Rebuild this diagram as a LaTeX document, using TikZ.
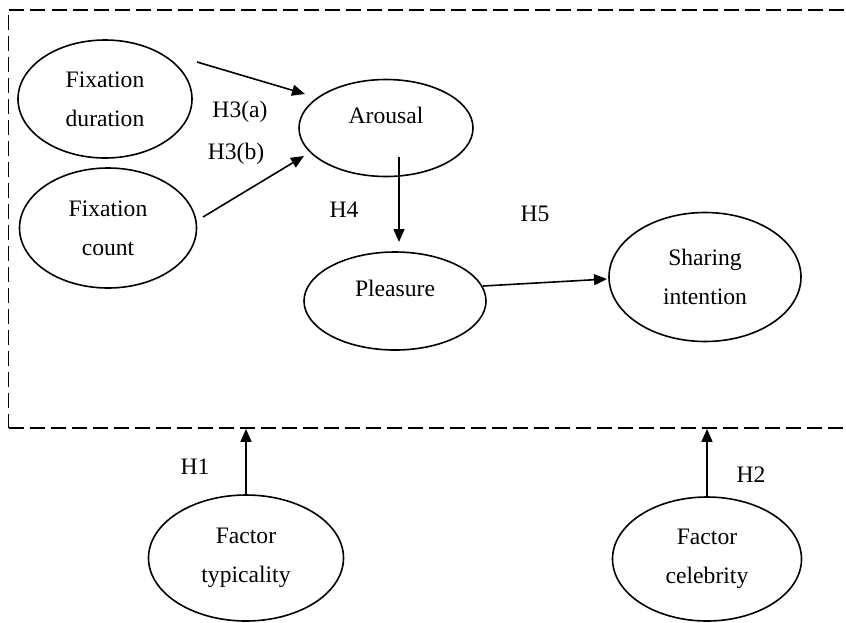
\documentclass[tikz,border=0pt]{standalone}
\usepackage{fontspec}
\setmainfont{Liberation Serif}
\usetikzlibrary{positioning, arrows.meta, shapes, calc}

\begin{document}
\begin{tikzpicture}[
    x=0.5pt, y=-0.5pt,
    var/.style={ellipse, draw=black, line width=0.8pt, inner sep=0pt, align=center, font=\fontsize{11.8}{19.5}\selectfont},
    single/.style={text height=8pt, text depth=13pt},
    arrow/.style={-{Triangle[length=6.5pt, width=5.5pt]}, line width=0.8pt},
    hyp/.style={font=\fontsize{11.8}{14}\selectfont, inner sep=0pt}
]
    \clip (0,0) rectangle (846,622);

    % frame around the eye-tracking model (open on the right)
    \node[draw=black, line width=0.9pt, dash pattern=on 7.5pt off 3pt, minimum width=435pt, minimum height=209pt, inner sep=0pt] (model) at (443.5,219) {};

    \node[var, minimum width=87pt, minimum height=59pt] (dur) at (105,99) {Fixation\\duration};
    \node[var, minimum width=88.5pt, minimum height=60pt] (cnt) at (108,228) {Fixation\\count};
    \node[var, single, minimum width=87pt, minimum height=48.5pt] (arousal) at (386,128) {Arousal};
    \node[var, single, minimum width=91pt, minimum height=49pt] (pleasure) at (395,301) {Pleasure};
    \node[var, minimum width=96pt, minimum height=64.5pt] (share) at (705,277) {Sharing\\intention};
    \node[var, minimum width=97.5pt, minimum height=63pt] (typ) at (246,558) {Factor\\typicality};
    \node[var, minimum width=94.5pt, minimum height=62pt] (celeb) at (707,559) {Factor\\celebrity};

    \draw[arrow] ($(dur)+(92,-37)$) -- ($(arousal)+(-81,-34)$);
    \draw[arrow] ($(cnt)+(95,-11)$) -- ($(arousal)+(-82,28)$);
    \draw[arrow] ($(arousal)+(13,29)$) -- ($(pleasure)+(4,-59)$);
    \draw[arrow] ($(pleasure)+(88,-15)$) -- ($(share)+(-98,2)$);
    \draw[arrow] (typ.north) -- (typ.north |- model.south);
    \draw[arrow] (celeb.north) -- (celeb.north |- model.south);

    % hypotheses
    \node[hyp] (h3a) at (240,112) {H3(a)};
    \node[hyp] (h3b) at (236,154) {H3(b)};
    \node[hyp] (h4) at (344,210) {H4};
    \node[hyp] (h5) at (535,214) {H5};
    \node[hyp] (h1) at (195,467) {H1};
    \node[hyp] (h2) at (751,475) {H2};

\end{tikzpicture}
\end{document}
